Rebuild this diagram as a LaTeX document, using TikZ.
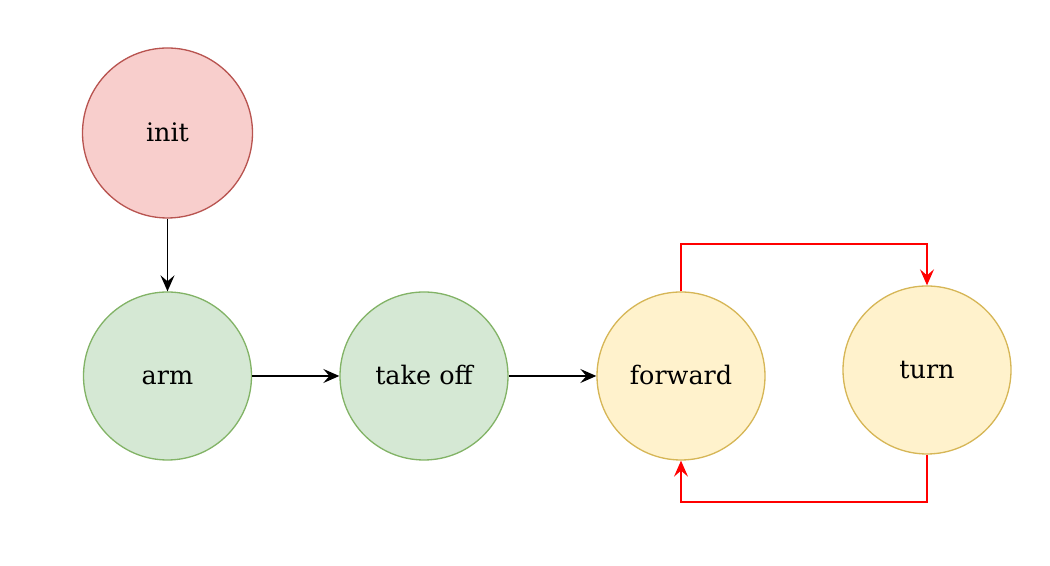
\documentclass[tikz,border=0pt]{standalone}
\usepackage{fontspec}
\setmainfont{DejaVu Serif}
\usetikzlibrary{arrows.meta}
\definecolor{initfill}{HTML}{F8CECC}
\definecolor{initdraw}{HTML}{B85450}
\definecolor{armfill}{HTML}{D5E8D4}
\definecolor{armdraw}{HTML}{82B366}
\definecolor{flyfill}{HTML}{FFF2CC}
\definecolor{flydraw}{HTML}{D6B656}
\tikzset{
    state/.style={circle, minimum size=3.36cm, inner sep=0pt, line width=0.75pt,
        text height=2.3ex, text depth=0.5ex,
        font=\fontsize{14.5}{17}\selectfont},
    startstate/.style={state, fill=initfill, draw=initdraw},
    groundstate/.style={state, fill=armfill, draw=armdraw},
    flystate/.style={state, fill=flyfill, draw=flydraw},
    flow/.style={-{Stealth[length=3.2mm, width=2.8mm, inset=1.2mm]}, line width=0.9pt},
    loopflow/.style={flow, red, line width=0.8pt}
}

\begin{document}
\begin{tikzpicture}
        \useasboundingbox (0, 0) rectangle (21, 11.32);
        \node[startstate, minimum size=3.4cm] (init) at (3.35, 8.66) {init};
        \node[groundstate] (arm) at (3.35, 3.8) {arm};
        \node[groundstate] (takeoff) at (8.48, 3.8) {take off};
        \node[flystate] (forward) at (13.62, 3.8) {forward};
        \node[flystate] (turn) at (18.54, 3.92) {turn};
        \draw[flow] (init) -- (arm);
        \draw[flow] (arm) -- (takeoff);
        \draw[flow] (takeoff) -- (forward);
        \draw[loopflow] (forward.north) |- (13.62, 6.44) -| (turn.north);
        \draw[loopflow] (turn.south) |- (18.54, 1.28) -| (forward.south);
    \end{tikzpicture}
\end{document}
